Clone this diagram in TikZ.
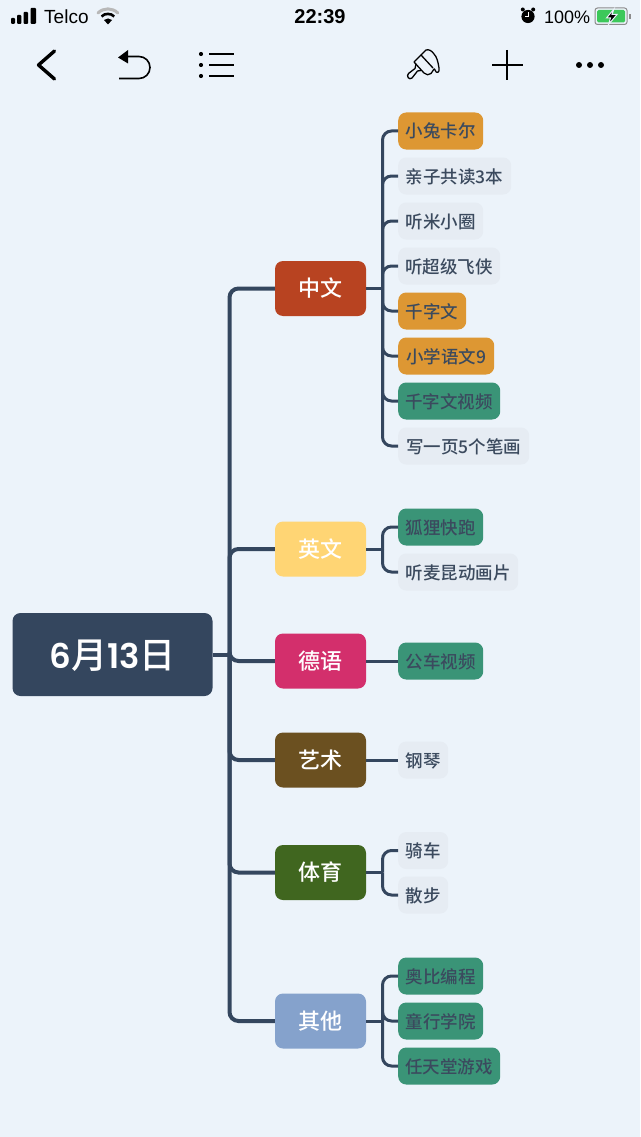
\documentclass[tikz,border=0pt]{standalone}
\usepackage{fontspec}
\setmainfont{Liberation Sans}
\newfontfamily\cjk{Noto Sans CJK SC}
\newfontfamily\cjkm{Noto Sans CJK SC Medium}
\newfontfamily\popp{Poppins SemiBold}
\definecolor{bgc}{HTML}{ECF3FA}
\definecolor{rootc}{HTML}{34465E}
\definecolor{linec}{HTML}{34465E}
\definecolor{zhc}{HTML}{B84321}
\definecolor{enc}{HTML}{FFD574}
\definecolor{dec}{HTML}{D32F6C}
\definecolor{arc}{HTML}{6B5020}
\definecolor{spc}{HTML}{40661F}
\definecolor{otc}{HTML}{85A2CC}
\definecolor{orc}{HTML}{DD9733}
\definecolor{grc}{HTML}{3A9477}
\definecolor{gyc}{HTML}{E6ECF3}
\definecolor{txc}{HTML}{3B4A5E}
\definecolor{batg}{HTML}{3CC85A}
\tikzset{
  rootbox/.style={fill=rootc,rounded corners=8pt,minimum width=200,minimum height=83,inner sep=0,text=white,text height=31pt,text depth=3pt,font=\cjkm\fontsize{36}{36}\selectfont},
  branchbox/.style={rounded corners=8pt,minimum width=91,minimum height=55,inner sep=0,text=white,text height=19pt,text depth=2.2pt,font=\cjkm\fontsize{22}{22}\selectfont},
  leafbox/.style={rounded corners=8pt,minimum height=37,inner sep=0,anchor=west,text=txc,text height=16pt,text depth=2pt,font=\cjkm\fontsize{17.5}{17.5}\selectfont},
  trunkline/.style={draw=linec,line width=4,rounded corners=9pt},
  leafline/.style={draw=linec,line width=3,rounded corners=9pt},
  icon/.style={draw=black,line width=1.3,line cap=round,line join=round},
  status/.style={inner sep=0,text=black,font=\fontsize{18}{18}\selectfont}
}
\begin{document}
\begin{tikzpicture}[x=1pt,y=-1pt]
\useasboundingbox (0,0) rectangle (640,1137);
\fill[bgc] (0,0) rectangle (640,1137);
% junctions
\coordinate (jr) at (229.5,654.5);
\coordinate (jz) at (382.5,288.5);
\coordinate (je) at (382.5,549);
\coordinate (js) at (382.5,872.5);
\coordinate (jo) at (382.5,1021);
% nodes
\node[rootbox] (root) at (112.5,654.5) {{\popp\fontsize{34}{34}\selectfont 6}月{\popp\fontsize{34}{34}\selectfont 13}日};
\node[branchbox,fill=zhc] (zh) at (320.5,288.5) {中文};
\node[branchbox,fill=enc] (en) at (320.5,549) {英文};
\node[branchbox,fill=dec] (de) at (320.5,661) {德语};
\node[branchbox,fill=arc] (ar) at (320.5,760) {艺术};
\node[branchbox,fill=spc] (sp) at (320.5,872.5) {体育};
\node[branchbox,fill=otc] (ot) at (320.5,1021) {其他};
\node[leafbox,fill=orc,minimum width=85] (a1) at (398,131) {小兔卡尔};
\node[leafbox,fill=gyc,minimum width=113] (a2) at (398,176) {亲子共读3本};
\node[leafbox,fill=gyc,minimum width=85] (a3) at (398,221) {听米小圈};
\node[leafbox,fill=gyc,minimum width=102] (a4) at (398,266) {听超级飞侠};
\node[leafbox,fill=orc,minimum width=68] (a5) at (398,311) {千字文};
\node[leafbox,fill=orc,minimum width=96] (a6) at (398,356) {小学语文9};
\node[leafbox,fill=grc,minimum width=102] (a7) at (398,401) {千字文视频};
\node[leafbox,fill=gyc,minimum width=131] (a8) at (398,446) {写一页5个笔画};
\node[leafbox,fill=grc,minimum width=85] (b1) at (398,527) {狐狸快跑};
\node[leafbox,fill=gyc,minimum width=120] (b2) at (398,572) {听麦昆动画片};
\node[leafbox,fill=grc,minimum width=85] (c1) at (398,661) {公车视频};
\node[leafbox,fill=gyc,minimum width=50] (d1) at (398,760) {钢琴};
\node[leafbox,fill=gyc,minimum width=50] (e1) at (398,850.5) {骑车};
\node[leafbox,fill=gyc,minimum width=50] (e2) at (398,895) {散步};
\node[leafbox,fill=grc,minimum width=85] (f1) at (398,976) {奥比编程};
\node[leafbox,fill=grc,minimum width=85] (f2) at (398,1021) {童行学院};
\node[leafbox,fill=grc,minimum width=102] (f3) at (398,1066) {任天堂游戏};
% connectors
\draw[trunkline] (root.east) -- (jr);
\foreach \n in {zh,en,de,ar,sp,ot} \draw[trunkline] (jr) |- (\n.west);
\draw[leafline] (zh.east) -- (jz);
\foreach \n in {a1,a2,a3,a4,a5,a6,a7,a8} \draw[leafline] (jz) |- (\n.west);
\draw[leafline] (en.east) -- (je);
\foreach \n in {b1,b2} \draw[leafline] (je) |- (\n.west);
\draw[leafline] (de.east) -- (c1.west);
\draw[leafline] (ar.east) -- (d1.west);
\draw[leafline] (sp.east) -- (js);
\foreach \n in {e1,e2} \draw[leafline] (js) |- (\n.west);
\draw[leafline] (ot.east) -- (jo);
\foreach \n in {f1,f2,f3} \draw[leafline] (jo) |- (\n.west);
% status bar
\foreach \xa/\ya/\wa in {11/18/4,17/15/4.4,23.5/12/4.6,30.5/8/5.5} \fill[black,rounded corners=1pt] (\xa,\ya) rectangle ++(\wa,24-\ya);
\node[status,anchor=west,font=\fontsize{19}{19}\selectfont] (telco) at (44,17) {Telco};
\draw[black!28,line width=3,line cap=round] (98,13) arc[start angle=-135,end angle=-45,radius=14];
\draw[black,line width=2.6] (101.5,16.5) arc[start angle=-135,end angle=-45,radius=9];
\fill[black] (108,24.5) -- (104,20) arc[start angle=-132,end angle=-48,radius=6] -- cycle;
\node[status,anchor=center,font=\bfseries\fontsize{20}{20}\selectfont] (clock) at (320,16.5) {22:39};
\fill[black] (528,16.5) circle[radius=6.6];
\fill[black] (522.8,9.5) circle[radius=2] (533.2,9.5) circle[radius=2];
\draw[white,line width=1] (528,12.5) -- (528,17) -- (524.5,17);
\node[status,anchor=west] (pct) at (544,17) {100\%};
\draw[black!45,line width=1,rounded corners=2.5pt] (595,8) rectangle (627,24.5);
\fill[batg,rounded corners=1.5pt] (597,10) rectangle (625,22.5);
\fill[black!45] (629,14) rectangle (630.5,19);
\fill[black,draw=bgc,line width=1] (614,9) -- (606.5,18) -- (610.5,18) -- (608.5,24.5) -- (617,14.5) -- (612,14.5) -- cycle;
% toolbar
\draw[black,line width=3.4,line cap=round,line join=round] (54.5,51) -- (38.5,65) -- (54.5,79);
\fill[black] (118,57.5) -- (128,50) -- (128,63.5) -- cycle;
\draw[black,line width=1.6] (126,56.5) -- (139,56.5) arc[start angle=-90,end angle=90,radius=11] -- (119,78.5);
\foreach \yy in {54,65,76} {\fill[black] (201,\yy) circle[radius=2.1]; \draw[black,line width=1.6] (209,\yy) -- (233.5,\yy);}
% brush
\draw[icon] (414,62) -- (426,50) .. controls (429,49) and (432,51) .. (434,54) .. controls (437,57) and (438,62) .. (439,68) .. controls (440,73) and (436,74) .. (435,70) .. controls (434.5,67) and (433,71) .. (431,73.5) .. controls (429,75.5) and (426,75) .. (424,73) -- cycle;
\draw[icon] (421,55) -- (433,68);
\draw[icon] (416,64) -- (415,68.5) -- (408.5,73.5) .. controls (406,76) and (409,80.5) .. (412,78) -- (417.5,71) -- (421,70.5);
% plus
\draw[black,line width=1.7] (507,50) -- (507,80) (492,65) -- (522.5,65);
% dots
\foreach \xx in {579,590,601} \fill[black] (\xx,65) circle[radius=3];
\end{tikzpicture}
\end{document}
